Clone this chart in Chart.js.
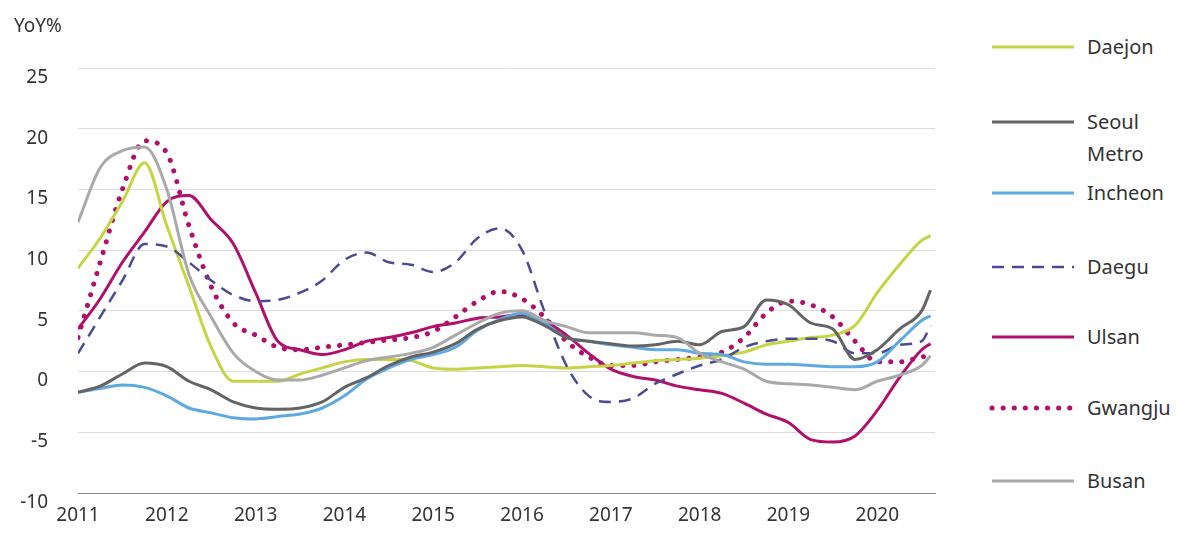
<!DOCTYPE html>
<html><head><meta charset="utf-8">
<script src="https://cdn.jsdelivr.net/npm/chart.js@4"></script>
<style>
body{margin:0;width:1200px;height:553px;background:#fff;font-family:"Noto Sans",sans-serif;position:relative;overflow:hidden}
#wrap{position:absolute;left:0;top:0;width:960px;height:553px}
#yl{position:absolute;left:14px;top:12px;font-size:19px;color:#333}
.lg{position:absolute;left:988px;font-size:20px;color:#333;line-height:32px}
.lg svg{position:absolute;left:0;top:0}
.lg span{position:absolute;left:99px;white-space:nowrap}
</style></head><body>
<div id="wrap"><canvas id="c"></canvas></div>
<div id="yl">YoY%</div>
<div id="legend"></div>
<script>
const xs=[2011,2011.25,2011.5,2011.75,2012,2012.25,2012.5,2012.75,2013,2013.25,2013.5,2013.75,2014,2014.25,2014.5,2014.75,2015,2015.25,2015.5,2015.75,2016,2016.25,2016.5,2016.75,2017,2017.25,2017.5,2017.75,2018,2018.25,2018.5,2018.75,2019,2019.25,2019.5,2019.75,2020,2020.25,2020.5,2020.6];
const daejon=[8.5,11,14,17.2,12,7,2,-0.8,-0.8,-0.8,-0.2,0.3,0.8,1.0,1.0,0.9,0.3,0.2,0.3,0.4,0.5,0.4,0.3,0.4,0.5,0.7,0.9,1.0,1.1,1.3,1.6,2.2,2.5,2.8,3.0,3.8,6.5,8.8,10.8,11.2];
const seoul=[-1.7,-1.2,-0.2,0.7,0.4,-0.8,-1.5,-2.5,-3.0,-3.1,-3.0,-2.5,-1.3,-0.5,0.5,1.2,1.6,2.3,3.5,4.2,4.5,3.8,2.8,2.5,2.3,2.1,2.2,2.5,2.2,3.3,3.7,5.9,5.5,4.0,3.5,1.0,1.8,3.5,5.0,6.7];
const incheon=[-1.7,-1.4,-1.1,-1.3,-2.0,-3.0,-3.4,-3.8,-3.9,-3.7,-3.5,-3.0,-2.0,-0.6,0.3,1.0,1.4,2.0,3.4,4.3,4.8,4.0,2.8,2.5,2.2,2.0,1.8,1.8,1.5,1.4,0.8,0.6,0.6,0.5,0.4,0.4,0.8,2.5,4.2,4.6];
const daegu=[1.5,4.5,7.5,10.5,10.3,9,7.5,6.3,5.8,5.9,6.5,7.5,9.2,9.8,9.0,8.8,8.2,9.0,11.0,11.8,10.0,5,0.5,-2.0,-2.5,-2.2,-1.0,-0.2,0.5,1.0,2.0,2.5,2.7,2.7,2.5,1.5,1.5,2.2,2.5,3.8];
const ulsan=[3.5,6,9,11.5,14,14.5,12.5,10.5,6.5,2.5,1.8,1.4,1.8,2.5,2.8,3.2,3.7,4.0,4.4,4.5,4.7,4.2,3.0,1.5,0.2,-0.4,-0.7,-1.2,-1.5,-1.8,-2.6,-3.5,-4.2,-5.6,-5.8,-5.3,-3.2,-0.5,1.8,2.3];
const gwangju=[2.8,9,15,19,18,12,7,4,3,2,1.8,2.0,2.2,2.4,2.6,2.8,3.3,4.5,5.8,6.6,6.0,4.5,2.5,1.2,0.5,0.5,0.8,1.0,1.2,1.6,2.8,4.8,5.8,5.5,4.5,2.5,0.8,0.8,1.2,1.3];
const busan=[12.3,16.8,18.2,18.5,15,8,4.5,1.5,0,-0.7,-0.7,-0.3,0.3,0.9,1.2,1.5,2.0,3.0,4.0,4.8,5.0,4.2,3.7,3.2,3.2,3.2,3.0,2.8,1.5,0.8,0.2,-0.8,-1.0,-1.1,-1.3,-1.5,-0.8,-0.3,0.5,1.3];
const yTicks=[-10,-5,0,5,10,15,20,25];
const xTicks=[2011,2012,2013,2014,2015,2016,2017,2018,2019,2020];

const series=[
 {label:'Daejon',data:daejon,color:'#c5d444',dash:[],w:3,lt:31},
 {label:'Seoul Metro',data:seoul,color:'#646464',dash:[],w:3,lt:106},
 {label:'Incheon',data:incheon,color:'#5ea9df',dash:[],w:3,lt:177},
 {label:'Daegu',data:daegu,color:'#4b4b94',dash:[12,8],w:2.5,lt:251},
 {label:'Ulsan',data:ulsan,color:'#b0106b',dash:[],w:3,lt:321},
 {label:'Gwangju',data:gwangju,color:'#b0106b',dash:[0.1,11],w:5,lt:392},
 {label:'Busan',data:busan,color:'#a9a9a9',dash:[],w:3,lt:465}
];
const order=[6,1,2,3,0,5,4];
const datasets=order.map(i=>{const s=series[i];return{label:s.label,data:xs.map((x,k)=>({x:x,y:s.data[k]})),borderColor:s.color,borderWidth:s.w,borderDash:s.dash,borderCapStyle:s.w>4?'round':'butt',pointRadius:0,cubicInterpolationMode:'monotone',fill:false};});

const lg=document.getElementById('legend');
series.forEach(s=>{
 const d=document.createElement('div');d.className='lg';d.style.top=s.lt+'px';
 const two=s.label==='Seoul Metro';
 d.innerHTML=`<svg width="90" height="32"><line x1="4" y1="16" x2="86" y2="16" stroke="${s.color}" stroke-width="${s.w}" stroke-dasharray="${s.dash.join(' ')}" stroke-linecap="${s.w>4?'round':'butt'}"/></svg><span>${two?'Seoul<br>Metro':s.label}</span>`;
 lg.appendChild(d);
});

new Chart(document.getElementById('c'),{type:'line',data:{datasets},
options:{responsive:true,maintainAspectRatio:false,animation:false,
layout:{padding:{top:68,bottom:0,left:0,right:25}},
plugins:{legend:{display:false},tooltip:{enabled:false}},
scales:{
 x:{type:'linear',min:2011,max:2020.65,afterFit:a=>{a.height=60},afterBuildTicks:a=>{a.ticks=xTicks.map(v=>({value:v}))},
  ticks:{autoSkip:false,color:'#333',font:{family:'Noto Sans',size:19},maxRotation:0,callback:v=>String(v)},
  grid:{display:false},border:{display:true,color:'#888',width:1}},
 y:{min:-10,max:25,afterFit:a=>{a.width=78},afterBuildTicks:a=>{a.ticks=yTicks.map(v=>({value:v}))},
  ticks:{color:'#333',font:{family:'Noto Sans',size:19},padding:30,align:'start'},
  grid:{color:'#dcdcdc',lineWidth:1,drawTicks:false},border:{display:false}}
}}});
</script></body></html>
